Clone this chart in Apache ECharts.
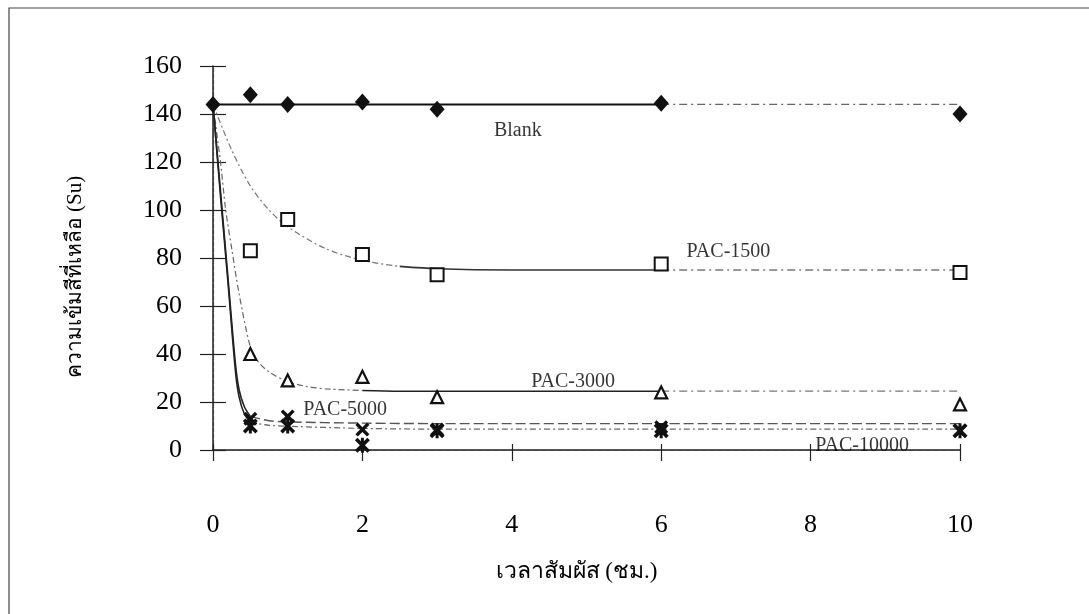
<!DOCTYPE html>
<html><head><meta charset="utf-8">
<script src="https://cdn.jsdelivr.net/npm/echarts/dist/echarts.min.js"></script>
<style>html,body{margin:0;padding:0;background:#fff}#c{width:1089px;height:614px}</style>
</head><body><div id="c"></div>
<script>
// ---- data ----
const xMin = 0, xMax = 10, xStep = 2;
const yMin = 0, yMax = 160, yStep = 20;
const times = [0, 0.5, 1, 2, 3, 6, 10];
const blank   = [144, 148, 144, 145, 142, 144.5, 140];
const pac1500 = [null, 83, 96, 81.5, 73, 77.5, 74];
const pac3000 = [null, 40, 29, 30.5, 22, 24, 19];
const pac5000 = [null, 13, 14, 8.5, 8.5, 9.5, 8];
const pac10000 = [null, 10, 10, 2, 8, 8, 8];

// fitted trend lines
const fitBlank = [[0,144],[6,144],[10,144]];
const fit1500 = [[0,144],[0.25,125],[0.5,110],[0.75,100],[1,93],[1.5,84],[2,79],[2.5,76.5],[3,75.5],[4,75],[6,75],[10,75]];
const fit3000 = [[0,144],[0.1,120],[0.17,100],[0.25,84],[0.35,65],[0.5,43],[0.6,37],[0.75,32.5],[1,28.5],[1.25,26.5],[1.5,25.5],[2,24.8],[2.5,24.5],[6,24.5],[10,24.5]];
const fit5000 = [[0,144],[0.1,108],[0.2,72],[0.3,36],[0.35,25],[0.42,18],[0.5,14],[0.75,12.2],[1,11.7],[2,11.2],[3,11],[6,11],[10,11]];
const fit10000 = [[0,144],[0.1,106],[0.2,70],[0.3,33],[0.35,22],[0.42,15],[0.5,11.5],[0.75,10.3],[1,9.9],[2,9],[3,8.7],[6,8.7],[10,8.7]];

const labelNames = ['Blank','PAC-1500','PAC-3000','PAC-5000','PAC-10000'];
const labelX = [4.08, 6.9, 4.82, 1.77, 8.69];
const labelY = [133, 82.5, 28.3, 16.7, 1.7];

const xTitle = 'เวลาสัมผัส (ชม.)';
const yTitle = 'ความเข้มสีที่เหลือ (Su)';

// ---- chart ----
const serif = '"Liberation Serif","DejaVu Serif","Times New Roman",serif';
const pts = arr => times.map((t,i)=>[t,arr[i]]).filter(p=>p[1]!=null);
const seg = (arr, a, b) => arr.filter(p => p[0] >= a && p[0] <= b);

const XPATH = 'path://M0,1.7 L1.7,0 L5,3.3 L8.3,0 L10,1.7 L6.7,5 L10,8.3 L8.3,10 L5,6.7 L1.7,10 L0,8.3 L3.3,5 Z';
const STAR = 'path://M0,1.7 L1.7,0 L5,3.3 L8.3,0 L10,1.7 L6.7,5 L10,8.3 L8.3,10 L5,6.7 L1.7,10 L0,8.3 L3.3,5 Z M4,0 L6,0 L6,10 L4,10 Z';

function line(data, color, width, type, smooth){
  return {type:'line', data, symbol:'none', smooth: smooth ? 0.3 : false,
    lineStyle:{color, width, type}, z:2, silent:true, animation:false, xAxisIndex:0, yAxisIndex:0};
}
function marks(data, symbol, size, fill, border, bw){
  return {type:'scatter', data, symbol, symbolSize:size, z:5, animation:false,
    itemStyle:{color:fill, borderColor:border, borderWidth:bw, opacity:1}, xAxisIndex:0, yAxisIndex:0};
}

const axisCommon = {type:'value', min:xMin, max:xMax, interval:xStep};
const yCommon = {type:'value', min:yMin, max:yMax, interval:yStep};

const option = {
  backgroundColor:'#fff',
  animation:false,
  grid:{left:213, right:129, top:66, bottom:164, containLabel:false},
  graphic:[{type:'rect', shape:{x:9, y:8, width:1200, height:700}, style:{fill:'none', stroke:'#444', lineWidth:1.2}, silent:true}],
  xAxis:[
    Object.assign({}, axisCommon, {position:'bottom',
      name:xTitle, nameLocation:'middle', nameGap:110,
      nameTextStyle:{fontFamily:serif, fontSize:23, color:'#000', padding:[0,20,0,0]},
      axisLine:{show:true, onZero:false, lineStyle:{color:'#222', width:1.5}},
      axisTick:{show:true, inside:false, length:11, lineStyle:{color:'#222', width:1.2}},
      axisLabel:{show:true, margin:62, fontFamily:serif, fontSize:26, color:'#000'},
      splitLine:{show:false}}),
    Object.assign({}, axisCommon, {position:'bottom',
      axisLine:{show:false}, axisTick:{show:true, inside:true, length:6, lineStyle:{color:'#222', width:1.2}},
      axisLabel:{show:false}, splitLine:{show:false}}),
    Object.assign({}, axisCommon, {position:'top',
      axisLine:{show:true, lineStyle:{color:'#444', width:1.2, type:[6,2]}}, axisTick:{show:false},
      axisLabel:{show:false}, splitLine:{show:false}})
  ],
  yAxis:[
    Object.assign({}, yCommon, {position:'left',
      name:yTitle, nameLocation:'middle', nameGap:127, nameRotate:90,
      nameTextStyle:{fontFamily:serif, fontSize:21, color:'#000', padding:[0,38,0,0]},
      axisLine:{show:true, onZero:false, lineStyle:{color:'#222', width:1.5}},
      axisTick:{show:true, inside:false, length:13, lineStyle:{color:'#222', width:1.2}},
      axisLabel:{show:true, margin:31, fontFamily:serif, fontSize:26, color:'#000'},
      splitLine:{show:false}}),
    Object.assign({}, yCommon, {position:'left',
      axisLine:{show:false}, axisTick:{show:true, inside:true, length:13, lineStyle:{color:'#222', width:1.2}},
      axisLabel:{show:false}, splitLine:{show:false}}),
    Object.assign({}, yCommon, {position:'right',
      axisLine:{show:true, lineStyle:{color:'#444', width:1.2, type:[4,2]}}, axisTick:{show:false},
      axisLabel:{show:false}, splitLine:{show:false}})
  ],
  series:[
    // Blank
    line(seg(fitBlank,0,6), '#111', 2, 'solid', false),
    line(seg(fitBlank,6,10), '#666', 1.3, [8,4,2,4], false),
    // PAC-1500
    line(seg(fit1500,0,2.5), '#777', 1.2, [6,3,2,3], true),
    line(seg(fit1500,2.5,6), '#333', 1.6, 'solid', true),
    line(seg(fit1500,6,10), '#777', 1.3, [8,4,2,4], false),
    // PAC-3000
    line(seg(fit3000,0,2), '#666', 1.2, [6,3,2,3], true),
    line(seg(fit3000,2,6), '#222', 1.6, 'solid', true),
    line(seg(fit3000,6,10), '#777', 1.3, [8,4,2,4], false),
    // PAC-5000
    line(seg(fit5000,0,0.5), '#222', 1.6, 'solid', true),
    line(seg(fit5000,0.5,10), '#555', 1.4, [10,4], true),
    // PAC-10000
    line(seg(fit10000,0,0.5), '#222', 1.6, 'solid', true),
    line(seg(fit10000,0.5,10), '#666', 1.2, [6,3,2,3], true),
    // markers
    marks(pts(blank), 'diamond', [15,17], '#111', '#111', 0),
    marks(pts(pac1500), 'rect', 13, '#fff', '#111', 2),
    marks(pts(pac3000), 'triangle', 12, '#fff', '#111', 2.2),
    marks(pts(pac5000), XPATH, 14, '#111', '#111', 0),
    marks(pts(pac10000), STAR, 15, '#111', '#111', 0),
    // curve labels
    {type:'scatter', symbolSize:0, z:6, animation:false, silent:true,
      data: labelNames.map((n,i)=>({name:n, value:[labelX[i], labelY[i]]})),
      label:{show:true, position:'inside', formatter:p=>p.name, fontFamily:serif, fontSize:20, color:'#000'}}
  ]
};
const chart = echarts.init(document.getElementById('c'), null, {renderer:'canvas'});
chart.setOption(option);
</script></body></html>
